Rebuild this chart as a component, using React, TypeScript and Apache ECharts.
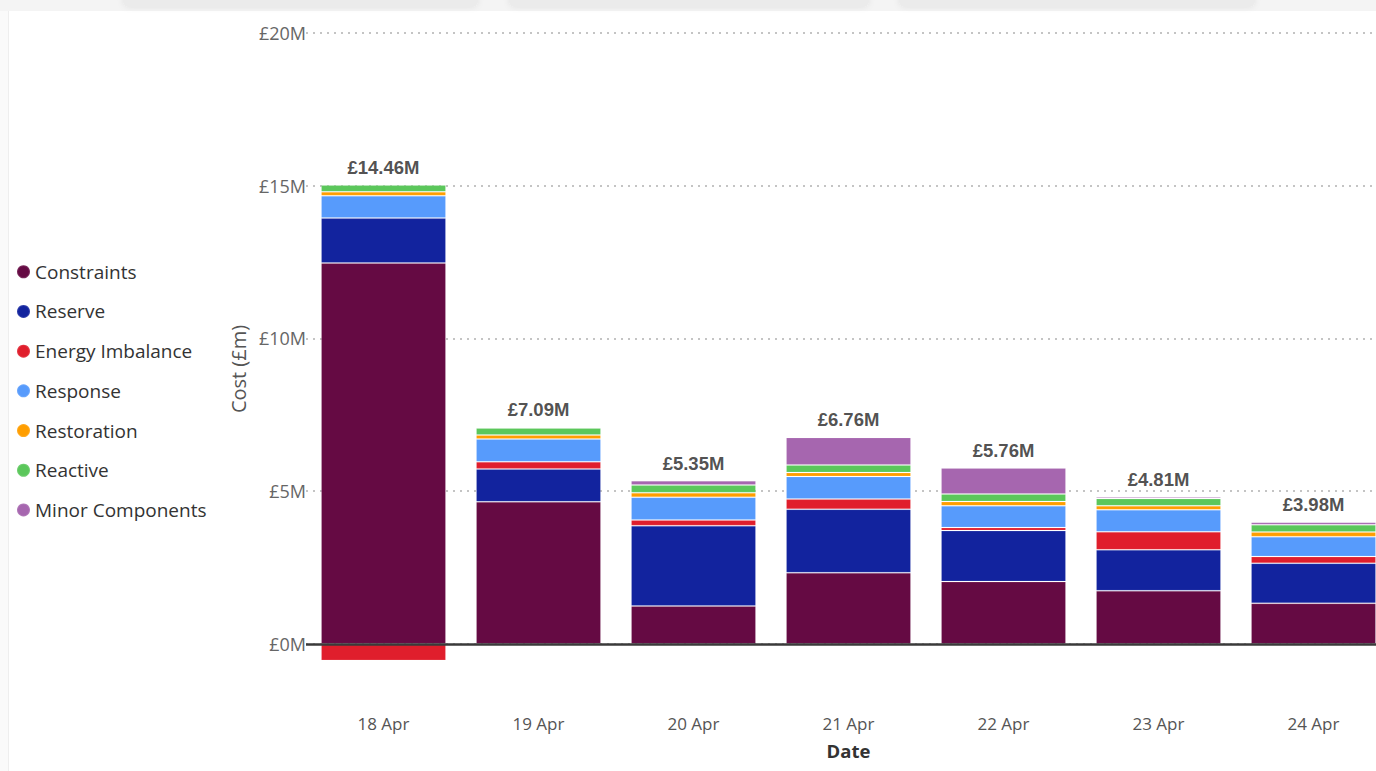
import React, { useEffect, useRef } from "react";
import * as echarts from "echarts";

const categories = ["18 Apr", "19 Apr", "20 Apr", "21 Apr", "22 Apr", "23 Apr", "24 Apr"];
const constraints = [12.47, 4.65, 1.24, 2.33, 2.04, 1.74, 1.33];
const reserve = [1.47, 1.08, 2.63, 2.08, 1.67, 1.34, 1.31];
const energyImbalance = [-0.54, 0.23, 0.19, 0.33, 0.1, 0.59, 0.22];
const response = [0.73, 0.75, 0.74, 0.74, 0.71, 0.72, 0.65];
const restoration = [0.13, 0.13, 0.15, 0.13, 0.14, 0.13, 0.15];
const reactive = [0.22, 0.23, 0.25, 0.25, 0.25, 0.24, 0.24];
const minorComponents = [-0.02, 0.02, 0.14, 0.9, 0.85, 0.05, 0.08];
const totals = [14.46, 7.09, 5.35, 6.76, 5.76, 4.81, 3.98];

const seriesDefs = [
  { name: "Constraints", data: constraints, color: "#650A43" },
  { name: "Reserve", data: reserve, color: "#12239E" },
  { name: "Energy Imbalance", data: energyImbalance, color: "#E01E2C" },
  { name: "Response", data: response, color: "#579BFC" },
  { name: "Restoration", data: restoration, color: "#FF9E00" },
  { name: "Reactive", data: reactive, color: "#5BC75B" },
  { name: "Minor Components", data: minorComponents, color: "#A666AF" },
];

const FONT = "'Segoe UI', 'Open Sans', 'Liberation Sans', sans-serif";

export default function App() {
  const ref = useRef<HTMLDivElement>(null);
  useEffect(() => {
    if (!ref.current) return;
    const chart = echarts.init(ref.current, undefined, { renderer: "svg" });
    const positiveTops = categories.map((_, i) =>
      seriesDefs.reduce((s, d) => s + (d.data[i] > 0 ? d.data[i] : 0), 0)
    );
    const barSeries: any[] = seriesDefs.map((d, idx) => ({
      name: d.name,
      type: "bar",
      stack: "cost",
      data: d.data,
      barCategoryGap: "19.4%",
      itemStyle: { color: d.color, borderColor: "rgba(255,255,255,0.13)", borderWidth: 1 },
      emphasis: { disabled: true },
      ...(idx === 0
        ? {
            markLine: {
              silent: true,
              symbol: "none",
              label: { show: false },
              z: 10,
              lineStyle: { color: "#3a3a3a", width: 2.5, type: "solid" },
              data: [{ yAxis: 0 }],
            },
          }
        : {}),
    }));
    barSeries.push({
      name: "Total",
      type: "scatter",
      data: positiveTops,
      symbolSize: 0,
      silent: true,
      label: {
        show: true,
        position: "top",
        distance: 8,
        formatter: (p: any) => "£" + totals[p.dataIndex].toFixed(2) + "M",
        fontFamily: "'Liberation Sans', Arial, sans-serif",
        fontWeight: "bold",
        fontSize: 18.5,
        color: "#252423",
      },
      z: 20,
    });

    chart.setOption({
      animation: false,
      backgroundColor: "#ffffff",
      textStyle: { fontFamily: FONT },
      graphic: [
        { type: "rect", shape: { x: 0, y: 0, width: 1391, height: 11 }, style: { fill: "#f4f4f4" }, silent: true },
        { type: "rect", shape: { x: 123, y: -6, width: 355, height: 13, r: 6 }, style: { fill: "#ebebeb", shadowBlur: 6, shadowColor: "rgba(0,0,0,0.08)" }, silent: true },
        { type: "rect", shape: { x: 509, y: -6, width: 360, height: 13, r: 6 }, style: { fill: "#ebebeb", shadowBlur: 6, shadowColor: "rgba(0,0,0,0.08)" }, silent: true },
        { type: "rect", shape: { x: 899, y: -6, width: 356, height: 13, r: 6 }, style: { fill: "#ebebeb", shadowBlur: 6, shadowColor: "rgba(0,0,0,0.08)" }, silent: true },
        { type: "line", shape: { x1: 8.5, y1: 11, x2: 8.5, y2: 771 }, style: { stroke: "#eeeeee", lineWidth: 1 }, silent: true },
        { type: "rect", shape: { x: 0, y: 0, width: 8, height: 771 }, style: { fill: "#fafafa" }, silent: true, z: -1 },
      ],
      legend: {
        orient: "vertical",
        left: 11,
        top: 257,
        icon: "circle",
        itemWidth: 13,
        itemHeight: 13,
        itemGap: 20.2,
        data: seriesDefs.map((d) => d.name),
        textStyle: { fontFamily: FONT, fontSize: 19, color: "#333333", lineHeight: 19.5 },
        selectedMode: false,
      },
      grid: { left: 306, right: 0, top: 33, bottom: 66, containLabel: false },
      xAxis: {
        type: "category",
        data: categories,
        axisLine: { show: false, onZero: false },
        axisTick: { show: false },
        axisLabel: { color: "#555555", fontSize: 17, margin: 10, fontFamily: FONT },
        name: "Date",
        nameLocation: "middle",
        nameGap: 36,
        nameTextStyle: { color: "#333333", fontSize: 18.5, fontWeight: "bold", fontFamily: FONT },
      },
      yAxis: {
        type: "value",
        min: -2,
        max: 20,
        splitNumber: 4,
        axisLine: { show: false },
        axisTick: { show: false },
        axisLabel: {
          color: "#666666",
          fontSize: 18,
          margin: 0,
          showMinLabel: false,
          fontFamily: FONT,
          formatter: (v: number) => (v < 0 ? "" : "£" + v + "M"),
        },
        splitLine: {
          showMinLine: false,
          lineStyle: { color: "#c4c4c4", width: 2, type: [2, 5] },
        },
        name: "Cost (£m)",
        nameLocation: "middle",
        nameGap: 58,
        nameTextStyle: { color: "#555555", fontSize: 20, fontFamily: FONT },
      },
      series: barSeries,
    });
    return () => chart.dispose();
  }, []);
  return (
    <div style={{ position: "absolute", left: 0, top: 0, width: 1376, height: 771, overflow: "hidden" }}>
      <div ref={ref} style={{ width: 1391, height: 771 }} />
    </div>
  );
}
